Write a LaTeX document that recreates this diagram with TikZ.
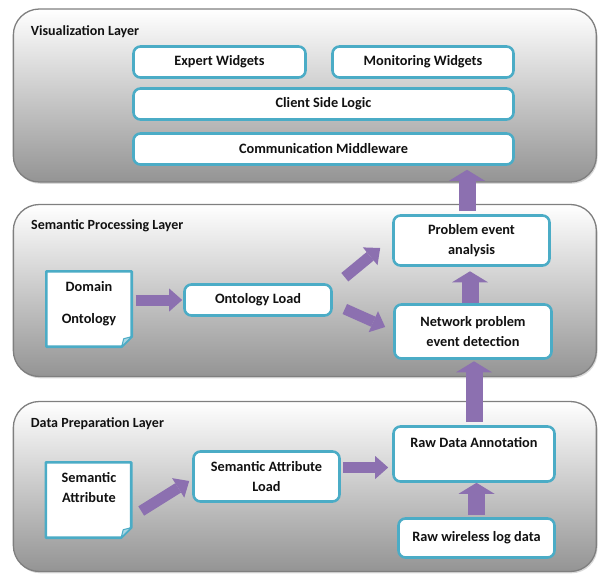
\documentclass[tikz,border=0pt]{standalone}
\usepackage{fontspec}
\setmainfont{Carlito}
\usetikzlibrary{arrows.meta,shadows}
\definecolor{boxblue}{HTML}{4BACC6}
\definecolor{arrowpurple}{HTML}{8C70B0}
\definecolor{arrowlight}{HTML}{A892C6}
\definecolor{layerline}{HTML}{7F7F7F}
\definecolor{foldblue}{HTML}{A9D7E4}
\definecolor{txtcol}{HTML}{111111}
\begin{document}
\begin{tikzpicture}[x=1pt,y=-1pt,
  layer/.style={draw=layerline, line width=1.3pt, rounded corners=26pt,
    shading=axis, top color=white, middle color=black!12, bottom color=black!42,
    drop shadow={shadow xshift=1.2pt, shadow yshift=-1.8pt, opacity=0.3},
    minimum width=583pt, inner sep=0pt},
  lbl/.style={font=\bfseries\fontsize{14}{16}\selectfont, text=txtcol, anchor=west, inner sep=0pt},
  box/.style={draw=boxblue, line width=2.6pt, rounded corners=7pt, fill=white, inner sep=2pt,
    font=\bfseries\fontsize{14.3}{19.5}\selectfont, text=txtcol, align=center},
  txt/.style={font=\bfseries\fontsize{14.3}{19.5}\selectfont, text=txtcol, align=center, inner sep=0pt},
  docbox/.style={inner sep=0pt},
  docline/.style={draw=boxblue, line width=2.6pt, fill=white, line join=round},
  foldline/.style={draw=boxblue, fill=foldblue, line width=1pt, line join=round},
  thinarr/.style={draw=arrowpurple, line width=11pt, -{Triangle[length=13pt,width=23pt,line width=0pt]}},
  fatarr/.style={draw=arrowpurple, line width=17pt, -{Triangle[length=11pt,width=36pt,line width=0pt]}}
]
\useasboundingbox (0,0) rectangle (598,574);

% layers
\node[layer, minimum height=173pt] (viz) at (304.85,95.5) {};
\node[layer, minimum height=172pt] (sem) at (304.85,290.5) {};
\node[layer, minimum height=170pt] (dp) at (304.85,486.5) {};
\node[lbl] (vizl) at (30.7,31.7) {Visualization Layer};
\node[lbl] (seml) at (31,226) {Semantic Processing Layer};
\node[lbl] (dpl) at (30.7,424) {Data Preparation Layer};

% visualization boxes
\node[box, minimum width=172pt, minimum height=31pt] (ew) at (219.5,62) {Expert Widgets};
\node[box, minimum width=181pt, minimum height=31pt] (mw) at (423,62) {Monitoring Widgets};
\node[box, minimum width=380pt, minimum height=31pt] (csl) at (323.5,104) {Client Side Logic};
\node[box, minimum width=380pt, minimum height=31pt] (cm) at (323.5,149) {Communication Middleware};

% semantic processing
\node[docbox, minimum width=85pt, minimum height=75pt] (do) at (89,309) {};
\draw[docline] (do.north west) -- (do.north east) -- ([yshift=10pt]do.south east)
  -- ([xshift=-10pt]do.south east) -- (do.south west) -- cycle;
\draw[foldline] ([xshift=-10pt]do.south east) -- ([yshift=10pt]do.south east)
  -- ([shift={(-8pt,8pt)}]do.south east) -- cycle;
\node[txt] (dot) at (89,303.5) {Domain\\[13pt]Ontology};
\node[box, minimum width=147pt, minimum height=31pt] (ol) at (258,300) {Ontology Load};
\node[box, minimum width=156pt, minimum height=50pt] (pea) at (471.5,240.5) {Problem event\\analysis};
\node[box, minimum width=157pt, minimum height=54pt] (nped) at (473,331.5) {Network problem\\event detection};

% data preparation
\node[docbox, minimum width=85pt, minimum height=75pt] (sa) at (88.5,500) {};
\draw[docline] (sa.north west) -- (sa.north east) -- ([yshift=10pt]sa.south east)
  -- ([xshift=-10pt]sa.south east) -- (sa.south west) -- cycle;
\draw[foldline] ([xshift=-10pt]sa.south east) -- ([yshift=10pt]sa.south east)
  -- ([shift={(-8pt,8pt)}]sa.south east) -- cycle;
\node[txt] (sat) at (89,487.5) {Semantic\\Attribute};
\node[box, minimum width=146pt, minimum height=50pt] (sal) at (266.5,476.5) {Semantic Attribute\\Load};
\node[box, minimum width=161pt, minimum height=55pt] (rda) at (474,454) {};
\node[txt] (rdat) at (474,443) {Raw Data Annotation};
\node[box, minimum width=156pt, minimum height=39pt] (rwld) at (476.5,538) {Raw wireless log data};

% arrows
\draw[thinarr, shorten <=4pt, shorten >=1pt] (do.east |- ol.west) -- (ol.west);
\draw[thinarr] ([shift={(12,-6)}]ol.north east) -- ([shift={(-12,7.5)}]pea.west);
\draw[thinarr] ([shift={(12,9)}]ol.east) -- ([shift={(-8,-4.5)}]nped.west);
\draw[thinarr] ([shift={(10,11)}]sa.east) -- ([shift={(-3,4.5)}]sal.west);
\draw[thinarr, shorten <=2pt, shorten >=4pt] ([yshift=9pt]sal.east) -- ([yshift=9pt]sal.east -| rda.west);
\draw[fatarr, shorten <=2pt] (rwld.north) -- (rwld.north |- rda.south);
\draw[fatarr, shorten >=1.5pt] ([yshift=3pt]rda.north) -- (rda.north |- nped.south);
\draw[fatarr, shorten >=4.5pt] ([xshift=-3pt]nped.north) -- ([xshift=-3pt]nped.north |- pea.south);
\draw[fatarr, shorten <=3pt, shorten >=4pt] ([xshift=-4.5pt]pea.north) -- ([xshift=-4.5pt]pea.north |- cm.south);
\end{tikzpicture}
\end{document}
